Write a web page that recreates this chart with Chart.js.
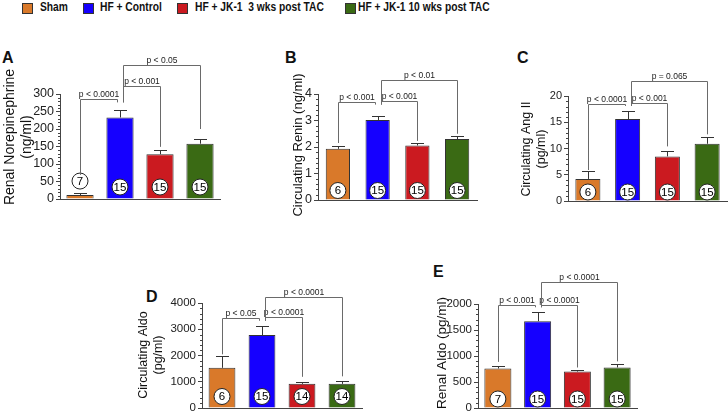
<!DOCTYPE html>
<html>
<head>
<meta charset="utf-8">
<script src="https://cdn.jsdelivr.net/npm/chart.js@4.4.0/dist/chart.umd.min.js"></script>
<style>
  body { margin: 0; background: #fff; width: 728px; height: 413px; position: relative; overflow: hidden; font-family: "Liberation Sans", Arial, sans-serif; }
  canvas { position: absolute; }
  .letter { position: absolute; font-weight: bold; font-size: 16px; line-height: 16px; color: #111; }
  .key { position: absolute; top: 0; white-space: pre; font-weight: bold; font-size: 12.5px; line-height: 15px; color: #111; transform: scaleX(0.82); transform-origin: left; }
  .swatch { position: absolute; top: 3px; width: 9px; height: 9px; border: 1px solid #333; }
</style>
</head>
<body>
<div id="legend"></div>
<div class="letter" style="left:2px;top:50px">A</div>
<div class="letter" style="left:285px;top:50px">B</div>
<div class="letter" style="left:517px;top:50px">C</div>
<div class="letter" style="left:146px;top:289px">D</div>
<div class="letter" style="left:433px;top:264px">E</div>
<canvas id="panelA"></canvas>
<canvas id="panelB"></canvas>
<canvas id="panelC"></canvas>
<canvas id="panelD"></canvas>
<canvas id="panelE"></canvas>
<script>
const groups = ["Sham", "HF + Control", "HF + JK-1  3 wks post TAC", "HF + JK-1 10 wks post TAC"];
const groupColors = ["#D9792A", "#1500FF", "#CB1A20", "#3A6A14"];

// A - renal norepinephrine
const norepiMean = [11.5, 233, 128, 158];
const norepiSem = [5.5, 22, 13, 13];
const norepiN = [7, 15, 15, 15];
const norepiTicks = [0, 50, 100, 150, 200, 250, 300];
// [from, to, bracket level, left leg end, right leg end, label]
const norepiStats = [
  [0, 1, 286, 69, 276, "p < 0.0001"],
  [1, 2, 322, 276, 149, "p < 0.001"],
  [1, 3, 384, 276, 200, "p < 0.05"]
];

// B - circulating renin
const reninMean = [1.93, 3.02, 2.06, 2.30];
const reninSem = [0.11, 0.16, 0.09, 0.12];
const reninN = [6, 15, 15, 15];
const reninTicks = [0, 1, 2, 3, 4];
const reninStats = [
  [0, 1, 3.70, 2.15, 3.6, "p < 0.001"],
  [1, 2, 3.75, 3.6, 2.23, "p < 0.001"],
  [1, 3, 4.54, 3.6, 2.5, "p < 0.01"]
];

// C - circulating ang II
const angMean = [4.2, 15.6, 8.5, 10.9];
const angSem = [1.5, 1.5, 1.0, 1.3];
const angN = [6, 15, 15, 15];
const angTicks = [0, 5, 10, 15, 20];
const angStats = [
  [0, 1, 18.5, 5.9, 18.1, "p < 0.0001"],
  [1, 2, 18.6, 18.1, 10.4, "p < 0.001"],
  [1, 3, 22.8, 18.1, 12.7, "p = 0.065"]
];

// D - circulating aldo
const aldoMean = [1530, 2780, 920, 920];
const aldoSem = [470, 350, 75, 110];
const aldoN = [6, 15, 14, 14];
const aldoTicks = [0, 1000, 2000, 3000, 4000];
const aldoStats = [
  [0, 1, 3425, 2045, 3323, "p < 0.05"],
  [1, 2, 3476, 3323, 1188, "p < 0.0001"],
  [1, 3, 4229, 3323, 1206, "p < 0.0001"]
];

// E - renal aldo
const renalAldoMean = [760, 1670, 700, 780];
const renalAldoSem = [45, 180, 40, 75];
const renalAldoN = [7, 15, 15, 15];
const renalAldoTicks = [0, 500, 1000, 1500, 2000];
const renalAldoStats = [
  [0, 1, 1987, 887, 1937, "p < 0.001"],
  [1, 2, 1987, 1937, 779, "p < 0.0001"],
  [1, 3, 2423, 1937, 896, "p < 0.0001"]
];

const FONT = "'Liberation Sans', Arial, sans-serif";
Chart.defaults.font.family = FONT;

// legend (html)
const keyPos = [[22, 40], [83, 100], [177, 195], [345, 358]];
const legend = document.getElementById("legend");
groups.forEach((g, i) => {
  const sw = document.createElement("div");
  sw.className = "swatch";
  sw.style.left = keyPos[i][0] + "px";
  sw.style.background = groupColors[i];
  legend.appendChild(sw);
  const t = document.createElement("div");
  t.className = "key";
  t.style.left = keyPos[i][1] + "px";
  t.textContent = g;
  legend.appendChild(t);
});

// error bars, n circles, minor ticks, brackets and the y title
function annotator(cfg) {
  return {
    id: "annotator",
    afterDatasetsDraw(chart) {
      const ctx = chart.ctx;
      const y = chart.scales.y;
      const area = chart.chartArea;
      const meta = chart.getDatasetMeta(0);
      ctx.save();
      ctx.strokeStyle = "#333";
      ctx.lineWidth = 1;
      meta.data.forEach((bar, i) => {
        const x = Math.round(bar.x) + 0.5;
        const y0 = y.getPixelForValue(cfg.mean[i]);
        const y1 = Math.round(y.getPixelForValue(cfg.mean[i] + cfg.sem[i])) + 0.5;
        ctx.beginPath();
        ctx.moveTo(x, y0);
        ctx.lineTo(x, y1);
        ctx.moveTo(x - 6.5, y1);
        ctx.lineTo(x + 6.5, y1);
        ctx.stroke();
      });
      // n circles
      const r = 8;
      meta.data.forEach((bar, i) => {
        const top = y.getPixelForValue(cfg.mean[i]);
        const errTop = y.getPixelForValue(cfg.mean[i] + cfg.sem[i]);
        let cy = area.bottom - cfg.lift;
        if (top > cy - r) cy = errTop - 4 - r;
        ctx.beginPath();
        ctx.arc(bar.x, cy, r, 0, Math.PI * 2);
        ctx.fillStyle = "#fff";
        ctx.fill();
        ctx.strokeStyle = "#222";
        ctx.stroke();
        ctx.fillStyle = "#000";
        ctx.font = "11.5px " + FONT;
        ctx.textAlign = "center";
        ctx.textBaseline = "middle";
        ctx.fillText(String(cfg.n[i]), bar.x, cy + 0.5);
      });
      ctx.restore();
    },
    afterDraw(chart) {
      const ctx = chart.ctx;
      const y = chart.scales.y;
      const area = chart.chartArea;
      const meta = chart.getDatasetMeta(0);
      ctx.save();
      // minor ticks
      ctx.strokeStyle = "#444";
      ctx.lineWidth = 1;
      const top = cfg.ticks[cfg.ticks.length - 1];
      const major = cfg.ticks[1] - cfg.ticks[0];
      ctx.beginPath();
      for (let k = 0; k * cfg.minor <= top + 1e-9; k++) {
        const v = k * cfg.minor;
        const rem = Math.abs(v / major - Math.round(v / major));
        if (rem < 1e-6) continue;
        const py = Math.round(y.getPixelForValue(v)) + 0.5;
        ctx.moveTo(area.left - 2, py);
        ctx.lineTo(area.left, py);
      }
      ctx.stroke();
      // significance brackets
      ctx.strokeStyle = "#6a6a6a";
      ctx.fillStyle = "#222";
      ctx.font = "8.5px " + FONT;
      ctx.textAlign = "center";
      ctx.textBaseline = "alphabetic";
      cfg.stats.forEach(([i, j, level, lEnd, rEnd, label]) => {
        const xi = Math.round(meta.data[i].x + (i === 1 ? 3 : 0)) + 0.5;
        const xj = Math.round(meta.data[j].x - (j === 1 ? 3 : 0)) + 0.5;
        const yl = Math.round(y.getPixelForValue(level)) + 0.5;
        ctx.beginPath();
        ctx.moveTo(xi, y.getPixelForValue(lEnd));
        ctx.lineTo(xi, yl);
        ctx.lineTo(xj, yl);
        ctx.lineTo(xj, y.getPixelForValue(rEnd));
        ctx.stroke();
        ctx.fillText(label, (xi + xj) / 2, yl - 3);
      });
      // y title
      const lines = Array.isArray(cfg.title) ? cfg.title : [cfg.title];
      ctx.translate(cfg.titleX - chart.canvas.offsetLeft, cfg.titleY - chart.canvas.offsetTop);
      ctx.rotate(-Math.PI / 2);
      ctx.fillStyle = "#111";
      ctx.font = cfg.titleSize + "px " + FONT;
      ctx.textBaseline = "middle";
      lines.forEach((ln, k) => ctx.fillText(ln, 0, k * cfg.titleSize * 1.2));
      ctx.restore();
    }
  };
}

function makePanel(id, box, area, cfg) {
  const canvas = document.getElementById(id);
  canvas.width = box.w;
  canvas.height = box.h;
  canvas.style.left = box.x + "px";
  canvas.style.top = box.y + "px";
  new Chart(canvas, {
    type: "bar",
    data: {
      labels: groups,
      datasets: [{
        data: cfg.mean,
        backgroundColor: groupColors,
        borderColor: "#333",
        borderWidth: 1,
        barPercentage: cfg.barPct,
        categoryPercentage: 1
      }]
    },
    options: {
      responsive: false,
      animation: false,
      devicePixelRatio: 1,
      layout: {
        padding: {
          left: 0,
          top: area.top - box.y,
          right: box.x + box.w - area.right,
          bottom: box.y + box.h - area.bottom
        }
      },
      scales: {
        x: {
          grid: { display: true, drawOnChartArea: false, drawTicks: false },
          ticks: { display: false },
          border: { color: "#444", width: 1 },
          afterFit: (s) => { s.height = 0; }
        },
        y: {
          min: 0,
          max: cfg.ticks[cfg.ticks.length - 1],
          afterBuildTicks: (s) => { s.ticks = cfg.ticks.map((v) => ({ value: v })); },
          ticks: { color: "#222", padding: 2, autoSkip: false, font: { size: cfg.tickSize }, callback: (v) => String(v) },
          grid: { drawOnChartArea: false, tickLength: 4, color: "#444" },
          border: { color: "#444", width: 1 },
          afterFit: (s) => {
            s.width = area.left - box.x;
            s.paddingTop = 0;
            s.paddingBottom = 0;
          }
        }
      },
      plugins: { legend: { display: false }, tooltip: { enabled: false } }
    },
    plugins: [annotator(cfg)]
  });
}

makePanel("panelA", { x: 0, y: 40, w: 226, h: 178 }, { left: 60, top: 94, right: 220, bottom: 199 }, {
  mean: norepiMean, sem: norepiSem, n: norepiN, ticks: norepiTicks, stats: norepiStats,
  title: ["Renal Norepinephrine", "(ng/ml)"], titleX: 10.4, titleY: 137, titleSize: 14,
  tickSize: 12.5, barPct: 0.68, minor: 10, lift: 12
});
makePanel("panelB", { x: 288, y: 55, w: 192, h: 167 }, { left: 318, top: 94, right: 477, bottom: 200 }, {
  mean: reninMean, sem: reninSem, n: reninN, ticks: reninTicks, stats: reninStats,
  title: "Circulating Renin (ng/ml)", titleX: 298, titleY: 145, titleSize: 13,
  tickSize: 12.5, barPct: 0.61, minor: 0.2, lift: 9.5
});
makePanel("panelC", { x: 515, y: 60, w: 213, h: 162 }, { left: 568, top: 96, right: 727, bottom: 201 }, {
  mean: angMean, sem: angSem, n: angN, ticks: angTicks, stats: angStats,
  title: ["Circulating Ang II", "(pg/ml)"], titleX: 527, titleY: 149, titleSize: 12.5,
  tickSize: 11, barPct: 0.63, minor: 1, lift: 9
});
makePanel("panelD", { x: 134, y: 280, w: 232, h: 133 }, { left: 202, top: 303, right: 362, bottom: 408 }, {
  mean: aldoMean, sem: aldoSem, n: aldoN, ticks: aldoTicks, stats: aldoStats,
  title: ["Circulating Aldo", "(pg/ml)"], titleX: 144, titleY: 355, titleSize: 12.5,
  tickSize: 11.5, barPct: 0.67, minor: 200, lift: 11.5
});
makePanel("panelE", { x: 430, y: 270, w: 215, h: 143 }, { left: 478, top: 304, right: 637, bottom: 408 }, {
  mean: renalAldoMean, sem: renalAldoSem, n: renalAldoN, ticks: renalAldoTicks, stats: renalAldoStats,
  title: "Renal Aldo (pg/ml)", titleX: 442, titleY: 353, titleSize: 13.5,
  tickSize: 11.5, barPct: 0.68, minor: 100, lift: 9
});
</script>
</body>
</html>
